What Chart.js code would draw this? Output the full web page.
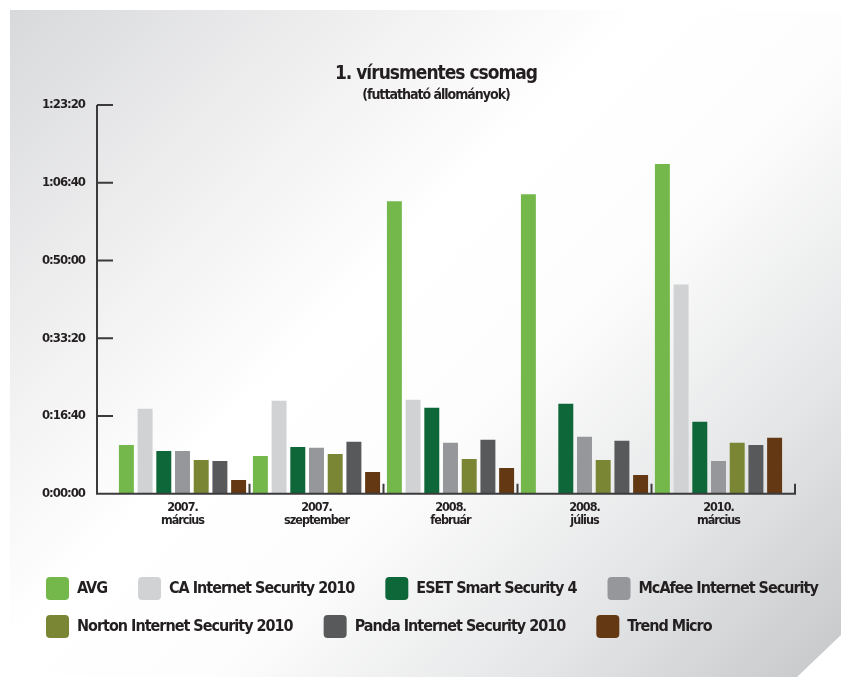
<!DOCTYPE html>
<html>
<head>
<meta charset="utf-8">
<script src="https://cdn.jsdelivr.net/npm/chart.js@4.4.1/dist/chart.umd.min.js"></script>
<style>
  html, body { margin: 0; padding: 0; background: #fff; overflow: hidden; }
  #wrap { position: relative; width: 841px; height: 677px; }
  #panel {
    position: absolute; left: 10px; top: 10px; width: 831px; height: 667px;
    background: linear-gradient(135deg, #d8d9db 0%, #eeeeef 22%, #ffffff 42%, #fdfdfd 58%, #e6e7e8 78%, #c6c7c9 100%);
    clip-path: polygon(0 0, 100% 0, 100% 625px, 787px 100%, 0 100%);
  }
  canvas { position: absolute; left: 0; top: 0; }
</style>
</head>
<body>
<div id="wrap">
  <div id="panel"></div>
  <canvas id="chart" width="841" height="677"></canvas>
</div>
<script>
// times in seconds
const categories = [['2007.', 'március'], ['2007.', 'szeptember'], ['2008.', 'február'], ['2008.', 'július'], ['2010.', 'március']];
const avg    = [628, 486, 3764, 3854, 4241];
const ca     = [1093, 1196, 1209, null, 2693];
const eset   = [551, 602, 1106, 1157, 925];
const mcafee = [551, 590, 654, 732, 422];
const norton = [435, 512, 448, 435, 654];
const panda  = [422, 667, 693, 680, 628];
const trend  = [177, 280, 332, 241, 719];
const yTicks = [0, 1000, 2000, 3000, 4000, 5000];

const FONT = "'DejaVu Sans Condensed', 'Liberation Sans Narrow', sans-serif";

function hms(s) {
  const h = Math.floor(s / 3600);
  const m = Math.floor((s % 3600) / 60);
  const sec = s % 60;
  return h + ':' + String(m).padStart(2, '0') + ':' + String(sec).padStart(2, '0');
}

// the print font is much narrower than anything installed, so tighten the letters
const tightText = {
  id: 'tightText',
  beforeUpdate(chart) { chart.ctx.letterSpacing = '-1px'; },
  beforeDraw(chart) { chart.ctx.letterSpacing = '-1px'; }
};

// axis lines drawn like the print version: y axis a bit left of the bars, ticks pointing inward
const axisPlugin = {
  id: 'printAxes',
  afterDatasetsDraw(chart) {
    const {ctx, chartArea, scales: {x, y}} = chart;
    const ax = chartArea.left - 18.5;
    const right = chartArea.right + 9.5;
    const base = y.getPixelForValue(0);
    ctx.save();
    ctx.strokeStyle = '#3b3b3b';
    ctx.lineWidth = 2;
    ctx.beginPath();
    ctx.moveTo(ax, y.getPixelForValue(5000));
    ctx.lineTo(ax, base);
    yTicks.forEach(v => {
      const py = y.getPixelForValue(v);
      ctx.moveTo(ax, py);
      ctx.lineTo(ax + 16, py);
    });
    ctx.moveTo(ax - 1, base);
    ctx.lineTo(right, base);
    for (let i = 0; i < categories.length - 1; i++) {
      const px = (x.getPixelForValue(i) + x.getPixelForValue(i + 1)) / 2;
      ctx.moveTo(px, base);
      ctx.lineTo(px, base - 10);
    }
    ctx.moveTo(right, base + 1);
    ctx.lineTo(right, base - 10);
    ctx.stroke();
    ctx.restore();
  }
};

const ds = (label, data, color) => ({ label, data, backgroundColor: color, borderWidth: 0 });

new Chart(document.getElementById('chart'), {
  type: 'bar',
  data: {
    labels: categories,
    datasets: [
      ds('AVG', avg, '#74b84b'),
      ds('CA Internet Security 2010', ca, '#d1d2d4'),
      ds('ESET Smart Security 4', eset, '#0e6739'),
      ds('McAfee Internet Security', mcafee, '#96979a'),
      ds('Norton Internet Security 2010', norton, '#7a8634'),
      ds('Panda Internet Security 2010', panda, '#58595b'),
      ds('Trend Micro', trend, '#633813')
    ]
  },
  options: {
    responsive: false,
    animation: false,
    categoryPercentage: 0.977,
    barPercentage: 0.8,
    layout: { padding: { left: 31, right: 0, top: 0, bottom: 29 } },
    scales: {
      x: {
        grid: { display: false, drawTicks: false },
        border: { display: false },
        ticks: { color: '#231f20', padding: 8, font: { family: FONT, size: 12.5, weight: 'bold', lineHeight: 1.04 } },
        afterFit: s => { s.height = 68.3; }
      },
      y: {
        min: 0, max: 5000,
        grid: { display: false, drawTicks: false },
        border: { display: false },
        ticks: {
          stepSize: 1000, padding: 30.5, color: '#231f20',
          font: { family: FONT, size: 13, weight: 'bold' },
          callback: v => hms(v)
        },
        afterFit: s => { s.width = 84.5; }
      },
      y2: {
        position: 'right',
        grid: { display: false, drawTicks: false },
        border: { display: false },
        ticks: { display: false },
        afterFit: s => { s.width = 55.5; }
      }
    },
    plugins: {
      title: {
        display: true,
        text: '1. vírusmentes csomag',
        color: '#231f20',
        font: { family: FONT, size: 19, weight: 'bold', lineHeight: 1.2 },
        padding: { top: 62.5, bottom: 0 }
      },
      subtitle: {
        display: true,
        text: '(futtatható állományok)',
        color: '#231f20',
        font: { family: FONT, size: 14, weight: 'bold', lineHeight: 1.2 },
        padding: { top: 2, bottom: 1 }
      },
      legend: {
        position: 'bottom',
        align: 'start',
        labels: {
          boxWidth: 23, boxHeight: 23, padding: 15,
          useBorderRadius: true, borderRadius: 4,
          color: '#231f20',
          font: { family: FONT, size: 16, weight: 'bold' },
          generateLabels(chart) {
            const items = Chart.defaults.plugins.legend.labels.generateLabels(chart);
            // extra room after items that are not last in their row
            items.forEach((it, i) => { if (i !== 3 && i !== 6) it.text += '    '; });
            return items;
          }
        }
      },
      tooltip: { enabled: false }
    }
  },
  plugins: [tightText, axisPlugin]
});
</script>
</body>
</html>
